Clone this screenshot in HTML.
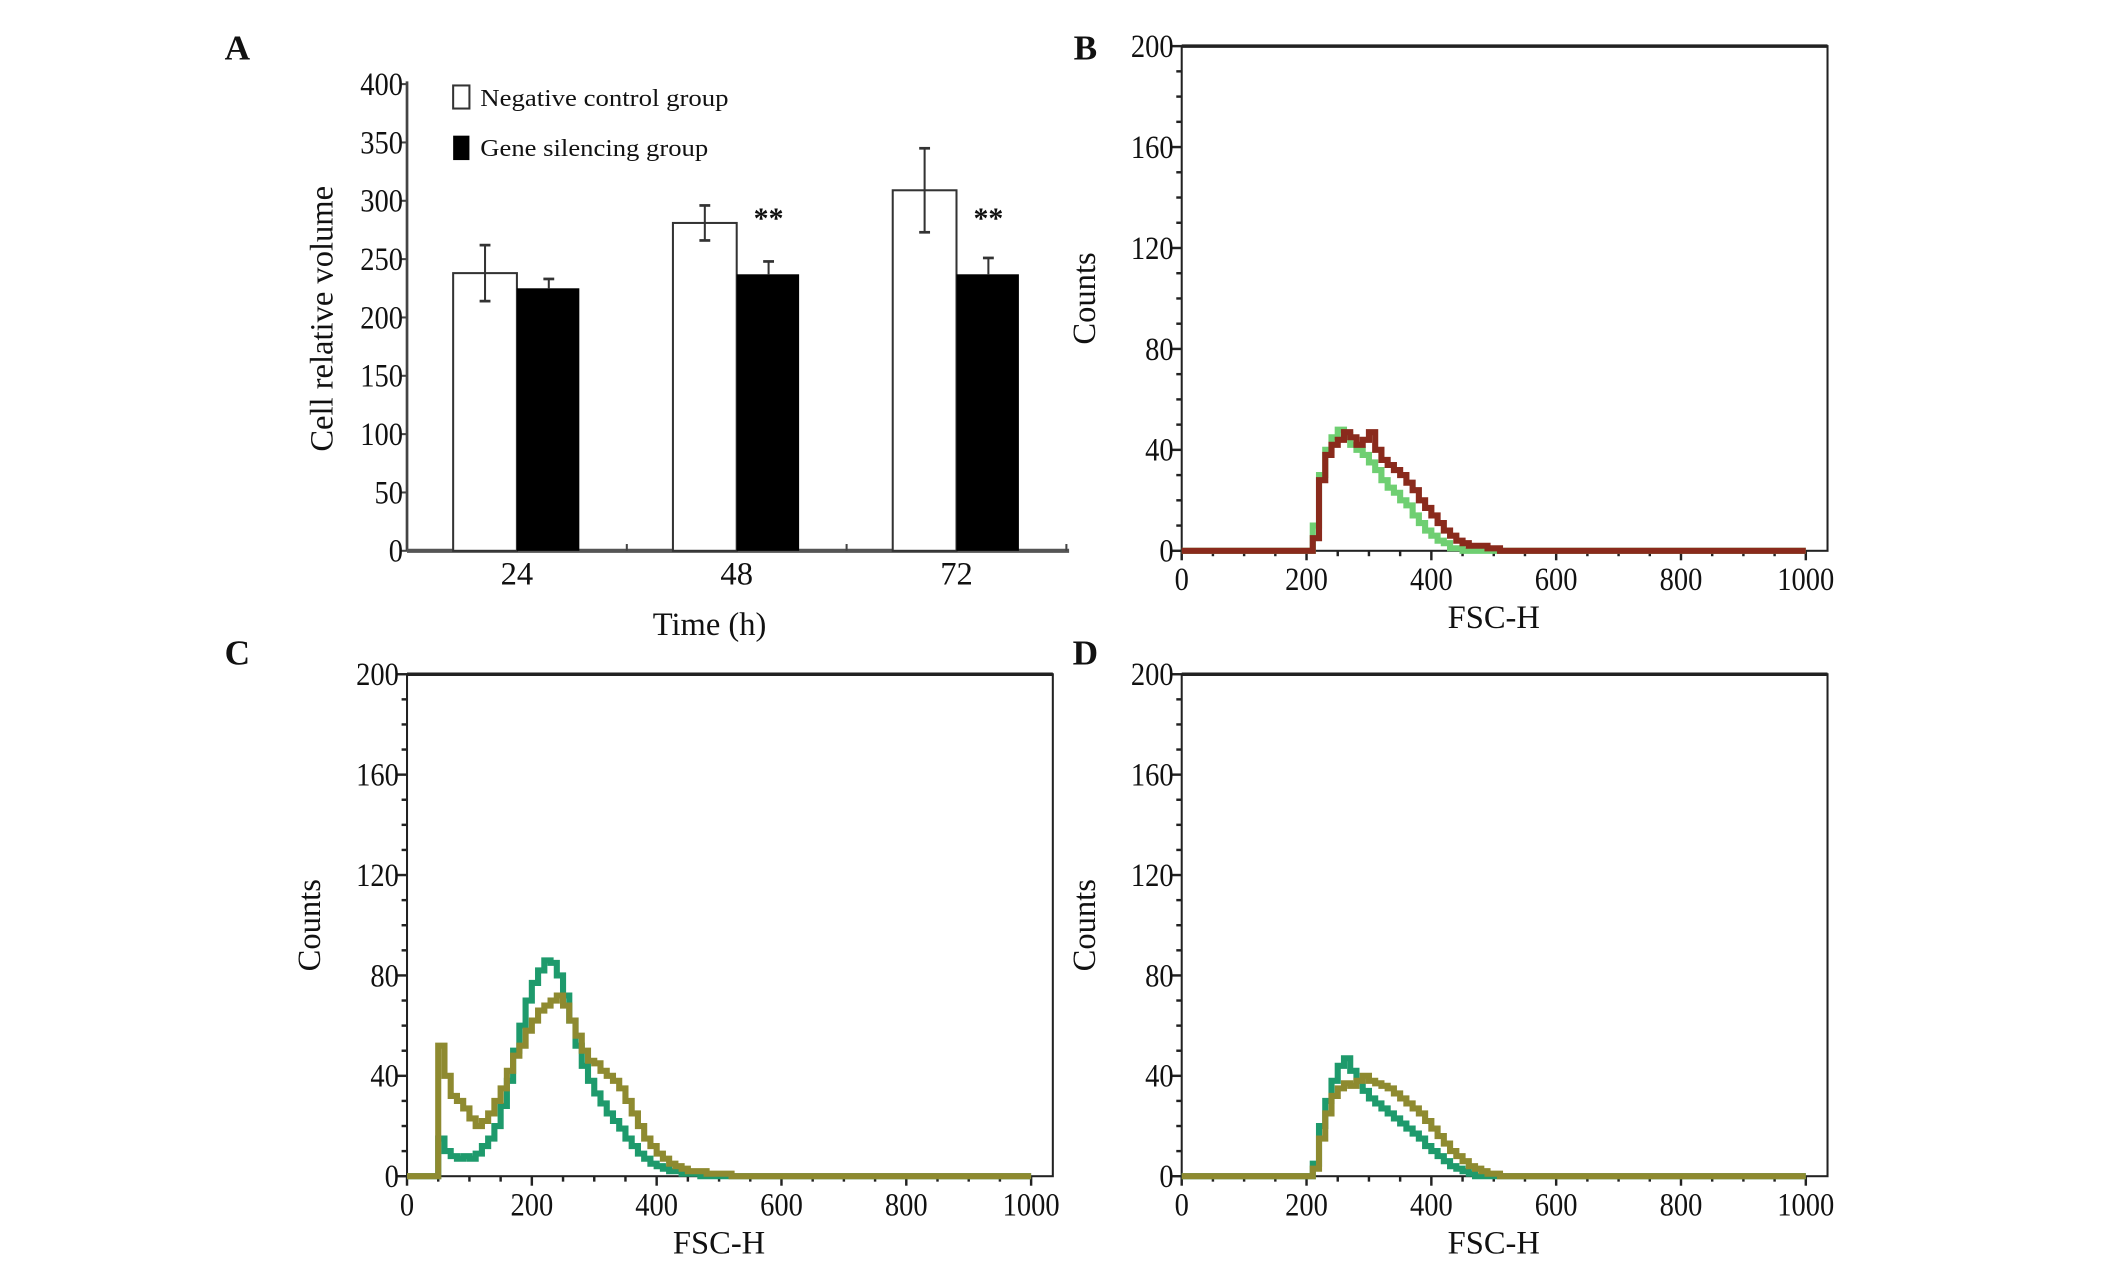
<!DOCTYPE html>
<html><head><meta charset="utf-8"><style>
html,body{margin:0;padding:0;background:#fff;}
svg{display:block;}
text{font-family:"Liberation Serif",serif;fill:#111;}
</style></head><body>
<svg id="fig" width="2126" height="1261" viewBox="0 0 1567 929.5" preserveAspectRatio="none" xmlns="http://www.w3.org/2000/svg"></svg>
<script>
// ---- Panel A data ----
const barCategories = ["24","48","72"];
const controlValues = [238, 281, 309];
const controlErr = [24, 15, 36];
const silencingValues = [225, 237, 237];
const silencingErr = [8, 11, 14];
const barTicks = [0,50,100,150,200,250,300,350,400];
// ---- Histogram data (bin width 10, starting at given FSC) ----
const histTicksX = [0,200,400,600,800,1000];
const histTicksY = [0,40,80,120,160,200];
const bGreenStart = 210;
const bGreen = [10,30,40,45,48,46,42,40,38,35,32,28,25,23,20,18,14,11,8,6,4,3,1,1];
const bRedStart = 210;
const bRed = [5,28,38,42,44,47,45,42,44,47,40,36,34,32,30,27,24,20,17,14,11,8,6,4,3,2,2,2,1,1];
const cTealStart = 50;
const cTeal = [15,10,8,7,8,7,9,12,15,20,28,38,50,60,70,77,82,86,85,80,72,62,52,44,38,33,29,25,22,19,15,12,9,7,5,4,3,2,2,1,1,1];
const cOliveStart = 50;
const cOlive = [52,40,32,30,27,23,20,22,25,30,35,42,48,52,58,62,66,68,70,72,68,62,56,50,46,45,42,40,38,35,30,25,20,15,12,9,7,5,4,3,2,2,2,1,1,1,1];
const dTealStart = 210;
const dTeal = [5,20,30,38,44,47,42,38,34,31,29,27,25,23,21,19,17,15,12,10,8,6,4,3,2,1];
const dOliveStart = 210;
const dOlive = [3,15,25,32,35,37,36,38,40,38,37,36,35,33,31,29,27,25,22,19,16,13,10,8,6,4,3,2,1,1];

const NS="http://www.w3.org/2000/svg";
const svg=document.getElementById('fig');
function mk(tag,attrs,parent){const e=document.createElementNS(NS,tag);for(const k in attrs)e.setAttribute(k,attrs[k]);(parent||svg).appendChild(e);return e;}
function txt(s,x,y,size,anchor,parent,extra){const t=mk('text',Object.assign({x:x,y:y,'font-size':size,'text-anchor':anchor||'start'},extra||{}),parent);t.textContent=s;return t;}

// Panel labels
[["A",175,44],["B",800,44],["C",175,490],["D",800,490]].forEach(p=>{
  const t=txt(p[0],p[1],p[2],26,'middle',null,{'font-weight':'bold'});
  
  
});

// ---- Panel A ----
const gA=mk('g',{});


const ax0=300, ay0=406, ay400=62, axEnd=788;
const yA=v=>ay0-(v/400)*(ay0-ay400);
const groupCenter=i=>381+i*162;
const bw=47;
mk('line',{x1:ax0,y1:ay400-2,x2:ax0,y2:ay0,stroke:'#444','stroke-width':2},gA);
mk('line',{x1:ax0,y1:ay0,x2:axEnd,y2:ay0,stroke:'#555','stroke-width':3},gA);
barTicks.forEach(v=>{
  mk('line',{x1:ax0-4,y1:yA(v),x2:ax0,y2:yA(v),stroke:'#444','stroke-width':1.5},gA);
  const t=txt(String(v),ax0-3,yA(v)+8,24,'end',gA,{'textLength':String(v).length*10.5,'lengthAdjust':'spacingAndGlyphs'});
  
  
});
[0.5,1.5,2.5].forEach(k=>{const x=381+(k-0.5)*162+81;mk('line',{x1:x,y1:ay0,x2:x,y2:ay0-5,stroke:'#444','stroke-width':1.5},gA);});
barCategories.forEach((c,i)=>{
  const cx=groupCenter(i);
  const w=mk('rect',{x:cx-bw,y:yA(controlValues[i]),width:bw,height:ay0-yA(controlValues[i]),fill:'#fff',stroke:'#333','stroke-width':1.5},gA);
  
  
  const b=mk('rect',{x:cx,y:yA(silencingValues[i]),width:bw-1,height:ay0-yA(silencingValues[i]),fill:'#000'},gA);
  
  
  const ex=cx-bw/2;
  mk('line',{x1:ex,y1:yA(controlValues[i]+controlErr[i]),x2:ex,y2:yA(controlValues[i]-controlErr[i]),stroke:'#333','stroke-width':1.5},gA);
  mk('line',{x1:ex-4,y1:yA(controlValues[i]+controlErr[i]),x2:ex+4,y2:yA(controlValues[i]+controlErr[i]),stroke:'#333','stroke-width':2},gA);
  mk('line',{x1:ex-4,y1:yA(controlValues[i]-controlErr[i]),x2:ex+4,y2:yA(controlValues[i]-controlErr[i]),stroke:'#333','stroke-width':2},gA);
  const sx=cx+bw/2;
  mk('line',{x1:sx,y1:yA(silencingValues[i]+silencingErr[i]),x2:sx,y2:yA(silencingValues[i]),stroke:'#333','stroke-width':1.5},gA);
  mk('line',{x1:sx-4,y1:yA(silencingValues[i]+silencingErr[i]),x2:sx+4,y2:yA(silencingValues[i]+silencingErr[i]),stroke:'#333','stroke-width':2},gA);
  const tl=txt(c,cx,431,24,'middle',gA);
  
  
  if(i>0){const s=txt('**',sx,168,22,'middle',gA,{'font-weight':'bold'});
    
    }
});
const lg1=mk('rect',{x:334,y:63,width:12,height:17,fill:'#fff',stroke:'#333','stroke-width':1.5},gA);


const lt1=txt('Negative control group',354,78,18,'start',gA,{'textLength':183,'lengthAdjust':'spacingAndGlyphs'});


const lg2=mk('rect',{x:334,y:100,width:12,height:18,fill:'#000'},gA);


const lt2=txt('Gene silencing group',354,115,18,'start',gA,{'textLength':168,'lengthAdjust':'spacingAndGlyphs'});


const yt=txt('Cell relative volume',0,0,24,'middle',gA,{transform:'translate(245,235) rotate(-90)'});


const xt=txt('Time (h)',523,468,24,'middle',gA);



// ---- Histograms ----
function hist(name,x0,yTop,yBot,series){
  const g=mk('g',{});
  
  
  const xR=x0+476;
  const X=v=>x0+v*0.46;
  const Y=v=>yBot-(v/200)*(yBot-yTop);
  mk('rect',{x:x0,y:yTop,width:xR-x0,height:yBot-yTop,fill:'#fff',stroke:'#222','stroke-width':1.5},g);
  mk('line',{x1:x0,y1:yTop,x2:xR,y2:yTop,stroke:'#222','stroke-width':2.5},g);
  for(let v=0;v<=200;v+=10){const L=(v%40===0)?7:4;mk('line',{x1:x0-L,y1:Y(v),x2:x0,y2:Y(v),stroke:'#222','stroke-width':1.8},g);}
  for(let v=0;v<=1000;v+=50){const L=(v%200===0)?7:4;mk('line',{x1:X(v),y1:yBot,x2:X(v),y2:yBot+L,stroke:'#222','stroke-width':1.8},g);}
  histTicksY.forEach(v=>{const t=txt(String(v),x0-6,Y(v)+8,24,'end',g,{'textLength':String(v).length*10.5,'lengthAdjust':'spacingAndGlyphs'});
    
    });
  histTicksX.forEach(v=>{const t=txt(String(v),X(v),yBot+29,24,'middle',g,{'textLength':String(v).length*10.5,'lengthAdjust':'spacingAndGlyphs'});
    
    });
  const yl=txt('Counts',0,0,24,'middle',g,{transform:'translate('+(x0-64)+','+((yTop+yBot)/2)+') rotate(-90)'});
  
  
  const xl=txt('FSC-H',x0+230,yBot+57,24,'middle',g);
  
  
  series.forEach(s=>{
    let d='M'+X(0)+','+Y(0)+' L'+X(s.start)+','+Y(0);
    s.values.forEach((v,i)=>{const a=s.start+i*10;d+=' L'+X(a)+','+Y(v)+' L'+X(a+10)+','+Y(v);});
    d+=' L'+X(s.start+s.values.length*10)+','+Y(0)+' L'+X(1000)+','+Y(0);
    const p=mk('path',{d:d,fill:'none',stroke:s.color,'stroke-width':4.5,'stroke-linejoin':'miter'},g);
    
    
  });
}
hist('histogram-b',871,34,406,[{start:bGreenStart,values:bGreen,color:'#6fcf72',name:'series-green'},{start:bRedStart,values:bRed,color:'#8a2a1c',name:'series-red'}]);
hist('histogram-c',300,497,867,[{start:cTealStart,values:cTeal,color:'#1e9a6c',name:'series-teal'},{start:cOliveStart,values:cOlive,color:'#8e8a30',name:'series-olive'}]);
hist('histogram-d',871,497,867,[{start:dTealStart,values:dTeal,color:'#1e9a6c',name:'series-teal'},{start:dOliveStart,values:dOlive,color:'#8e8a30',name:'series-olive'}]);
</script>
</body></html>
